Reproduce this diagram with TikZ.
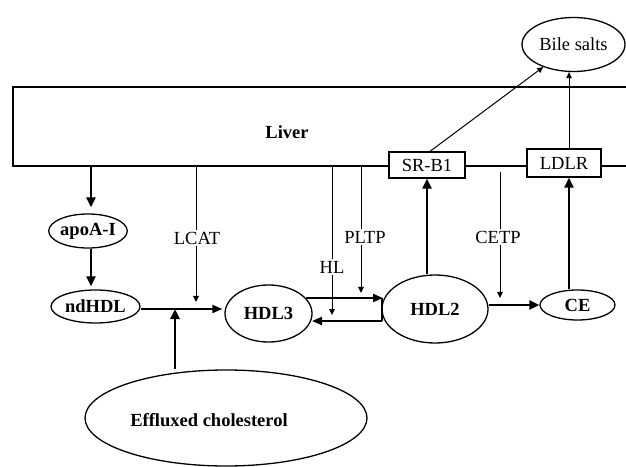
\documentclass[tikz,border=0pt]{standalone}
\usepackage{fontspec}
\setmainfont{Liberation Serif}
\usetikzlibrary{arrows.meta,shapes.geometric}
\newcommand\dfs{\fontsize{18.5bp}{21bp}\selectfont}
\begin{document}
\begin{tikzpicture}[x=1bp,y=-1bp,
  every node/.style={font=\dfs},
  bold/.style={font=\dfs\bfseries},
  ell/.style={draw, ellipse, line width=1.3bp, inner sep=0pt, fill=white},
  box/.style={draw, rectangle, fill=white, line width=1.3bp, inner sep=0pt},
  thinarr/.style={line width=1bp, -{Triangle[length=6bp,width=5.5bp]}},
  midarr/.style={line width=2bp, -{Triangle[length=10bp,width=8bp]}},
  thickarr/.style={line width=2.6bp, -{Triangle[length=10bp,width=9bp]}},
  lbl/.style={fill=white, inner sep=1.5bp}]
\useasboundingbox (0,0) rectangle (626,467);
% liver
\draw[line width=1.5bp] (630,87) -- (13,87) -- (13,166) -- (630,166);
\node[bold] (liver) at (287,132) {Liver};
% nodes
\node[ell, minimum width=103bp, minimum height=54bp] (bile) at (573.5,44.5) {Bile salts};
\node[box, minimum width=76bp, minimum height=26bp] (srb1) at (427,165) {SR-B1};
\node[box, minimum width=74bp, minimum height=28bp] (ldlr) at (564,163) {LDLR};
\node[ell, bold, minimum width=74bp, minimum height=34bp] (apoa) at (88,231) {apoA-I};
\node[ell, bold, minimum width=89bp, minimum height=33bp] (ndhdl) at (95.5,306.5) {ndHDL};
\node[ell, bold, minimum width=87bp, minimum height=57bp] (hdl3) at (268.5,313.5) {HDL3};
\node[ell, bold, minimum width=106bp, minimum height=68bp] (hdl2) at (435,309) {HDL2};
\node[ell, bold, minimum width=75bp, minimum height=30bp] (ce) at (577.5,305) {CE};
\node[ell, minimum width=282bp, minimum height=96bp] (eff) at (226,418) {};
\node[bold] (efftxt) at (209,420) {Effluxed cholesterol};
% coordinates
\coordinate (la) at (91,166);
\coordinate (lc) at (196,166);
\coordinate (lh) at (332,166);
\coordinate (lp) at (361,166);
\coordinate (lt) at (500,172);
\coordinate (j) at (175,309);
\coordinate (t1) at (306,298);
\coordinate (t2) at (383,298);
\coordinate (b1) at (382,321);
\coordinate (b2) at (312,321);
% connectors
\draw[thickarr, shorten >=6bp] (la) -- (la |- apoa.north);
\draw[thickarr, shorten >=3bp] (apoa.south -| la) -- (ndhdl.north -| la);
\draw[midarr, shorten >=2bp] (ndhdl.east |- j) -- (hdl3.west |- j);
\draw[thickarr] (eff.north -| j) -- (j);
\draw[thinarr, shorten >=7bp] (lc) -- (lc |- j);
\draw[thinarr, shorten >=6bp] (lh) -- (lh |- b1);
\draw[thinarr, shorten >=5bp] (lp) -- (lp |- t1);
\draw[thinarr, shorten >=7bp] (lt) -- (lt |- ce);
\draw[midarr] (t1) -- (t2);
\draw[midarr] (b1) -- (b2);
\draw[line width=1.3bp] (t2 -| b1) -- (b1);
\draw[thickarr] (hdl2.east |- ce) -- (ce.west);
\draw[thickarr] (srb1.south |- hdl2.north) -- (srb1.south);
\draw[thickarr] ([xshift=5bp]ldlr.south |- ce.north) -- ([xshift=5bp]ldlr.south);
\draw[thinarr] ([xshift=3bp]srb1.north) -- (bile);
\draw[thinarr] ([xshift=5bp]ldlr.north) -- ([xshift=5bp]ldlr.north |- bile.south);
% labels
\node[lbl] (lcat) at (197,238) {LCAT};
\node[lbl] (hl) at (332,267) {HL};
\node[lbl] (pltp) at (365,237) {PLTP};
\node[lbl] (cetp) at (498,237) {CETP};
\end{tikzpicture}
\end{document}
